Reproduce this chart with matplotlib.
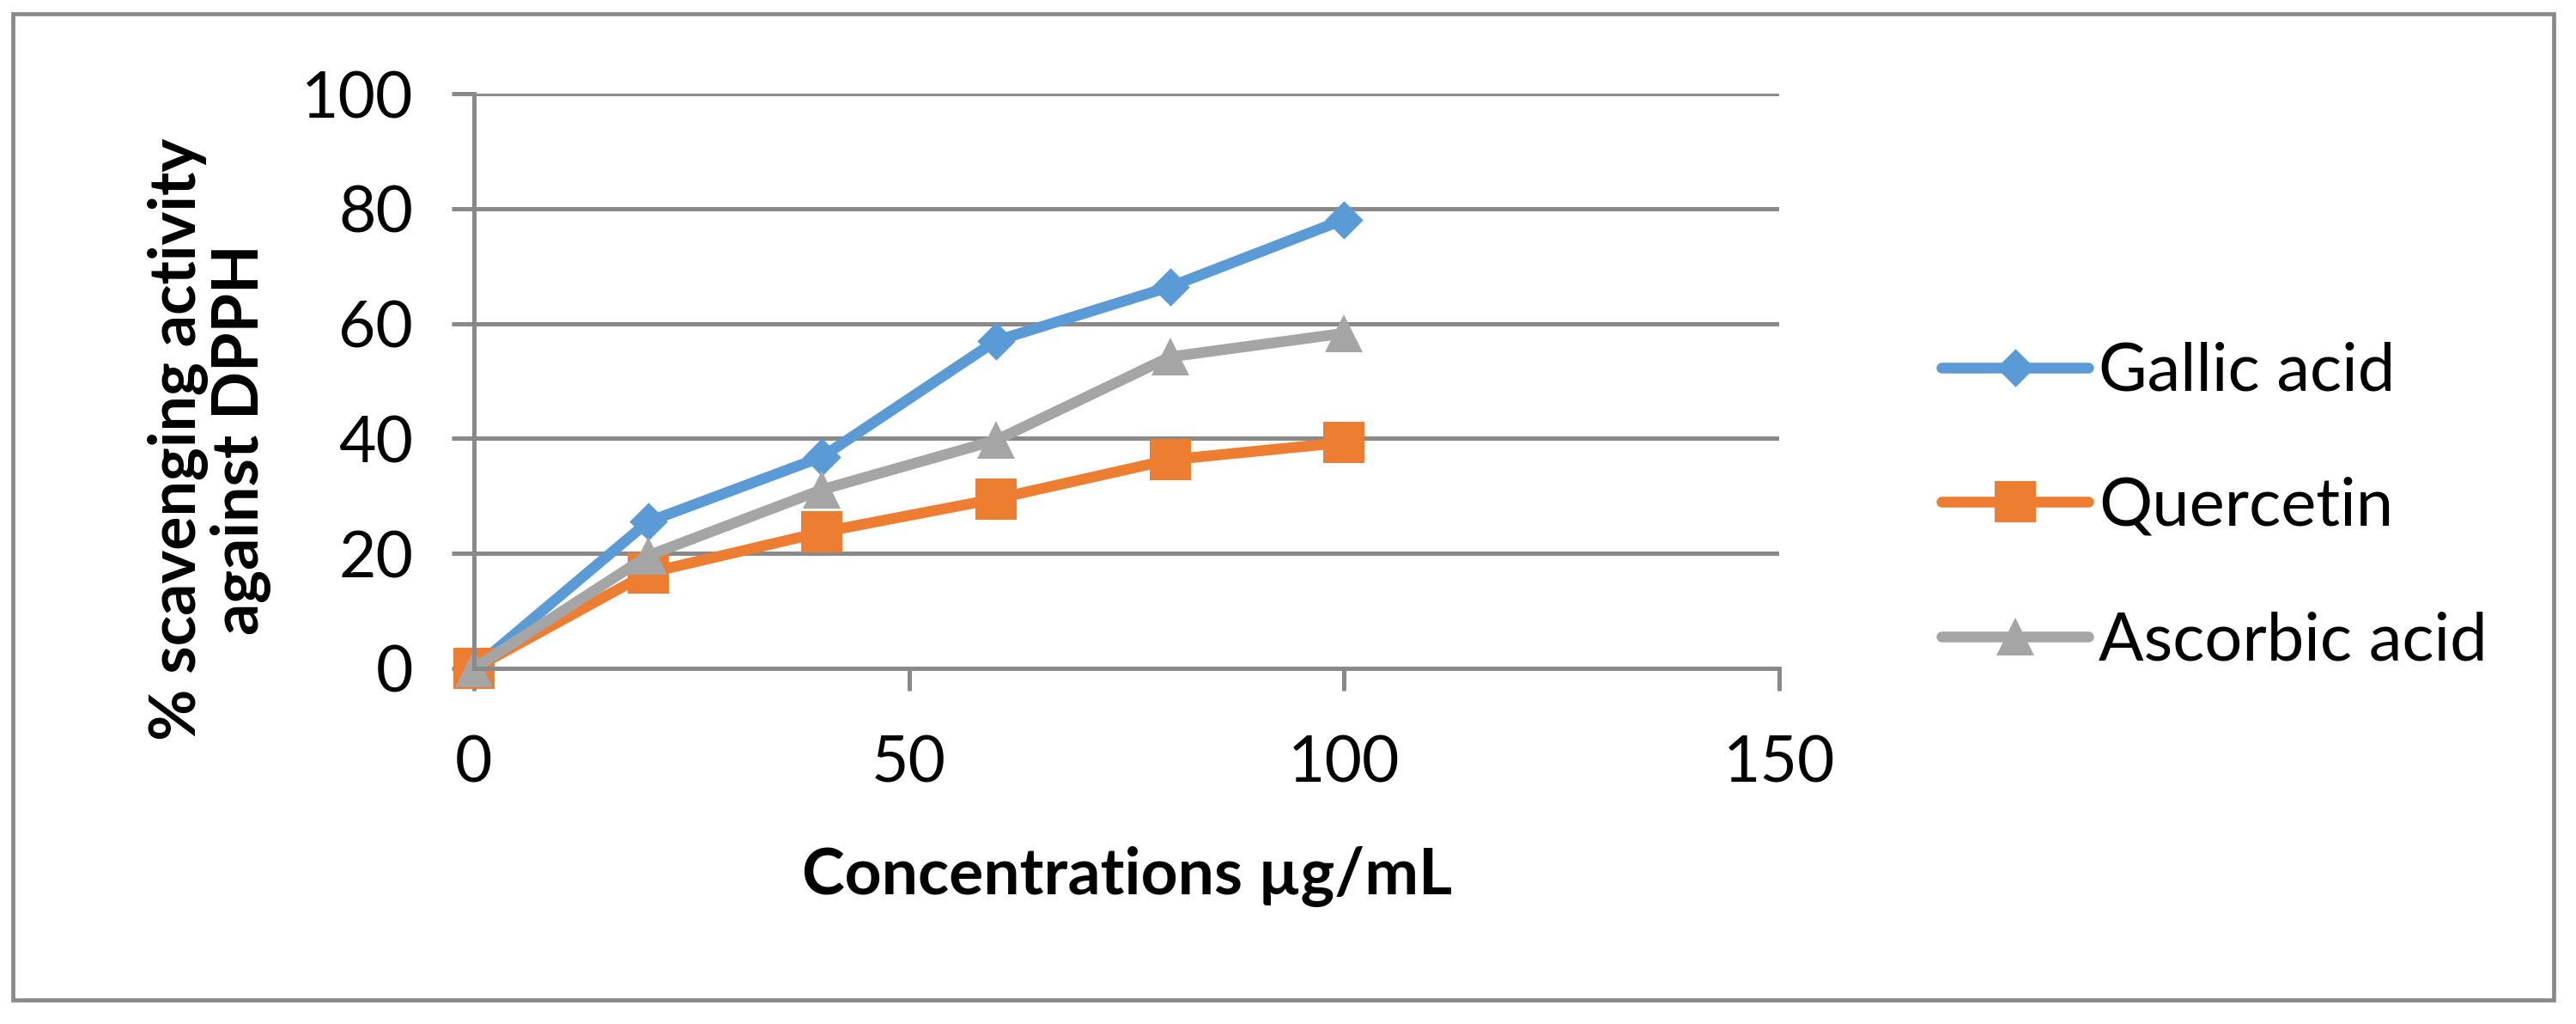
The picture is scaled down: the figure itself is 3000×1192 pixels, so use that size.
import matplotlib
matplotlib.use("Agg")
import matplotlib.pyplot as plt
from matplotlib.patches import Rectangle

# ---- data ----
concentrations = [0, 20, 40, 60, 80, 100]
gallic_acid = [0, 25.5, 36.8, 57.0, 66.4, 78.1]
quercetin = [0, 16.6, 23.7, 29.5, 36.3, 39.3]
ascorbic_acid = [0, 19.6, 31.1, 39.7, 54.2, 58.3]
series_names = ["Gallic acid", "Quercetin", "Ascorbic acid"]
x_ticks = [0, 50, 100, 150]
y_ticks = [0, 20, 40, 60, 80, 100]
x_label = "Concentrations µg/mL"
y_label = "% scavenging activity\nagainst DPPH"

plt.rcParams['font.family'] = ['Lato', 'DejaVu Sans']

W, H = 3000, 1192
fig = plt.figure(figsize=(W / 100, H / 100), dpi=100)
fig.patch.set_facecolor('white')

grid_c = '#898989'
ax = fig.add_axes([552 / W, 1 - 778 / H, 1520 / W, 669 / H])
ax.set_xlim(0, 150)
ax.set_ylim(0, 100)
ax.set_xticks(x_ticks)
ax.set_yticks(y_ticks)
ax.set_xticklabels([str(v) for v in x_ticks])
ax.set_yticklabels([str(v) for v in y_ticks])

for s in ['top', 'right']:
    ax.spines[s].set_visible(False)
for s in ['left', 'bottom']:
    ax.spines[s].set_color(grid_c)
    ax.spines[s].set_linewidth(3.6)
ax.yaxis.grid(True, color=grid_c, linewidth=3.6)
ax.set_axisbelow(True)
ax.tick_params(axis='both', direction='out', length=19, width=3.6, color=grid_c,
               labelsize=54, labelcolor='black')
ax.tick_params(axis='y', pad=32)
ax.tick_params(axis='x', pad=36)

diamond = [(0, 1), (1, 0), (0, -1), (-1, 0), (0, 1)]
colors = ['#5B9BD5', '#ED7D31', '#A5A5A5']
markers = [diamond, 's', '^']
msizes = [32, 34, 32]
for vals, name, c, m, ms in zip([gallic_acid, quercetin, ascorbic_acid], series_names,
                                colors, markers, msizes):
    ax.plot(concentrations, vals, color=c, lw=9, marker=m, markersize=ms,
            markeredgewidth=0, markerfacecolor=c, label=name, clip_on=False,
            solid_capstyle='round', solid_joinstyle='round')

ax.set_xlabel(x_label, fontsize=54, fontweight='bold')
ax.set_ylabel(y_label, fontsize=53, fontweight='bold', linespacing=1.05)
ax.yaxis.set_label_coords(-0.155, 0.398)
ax.xaxis.set_label_coords(0.5, -0.31)

leg = ax.legend(loc='center left', bbox_to_anchor=(2261 / W, 1 - 590 / H),
                bbox_transform=fig.transFigure, frameon=False, fontsize=56,
                handlelength=2.2, handletextpad=0.15, labelspacing=1.1,
                borderpad=0, borderaxespad=0)

fig.add_artist(Rectangle((15 / W, 1 - 1164 / H), (2974 - 15) / W, (1164 - 16) / H,
                         transform=fig.transFigure, fill=False, edgecolor=grid_c,
                         linewidth=3.4))

fig.savefig('out.png', dpi=100)
